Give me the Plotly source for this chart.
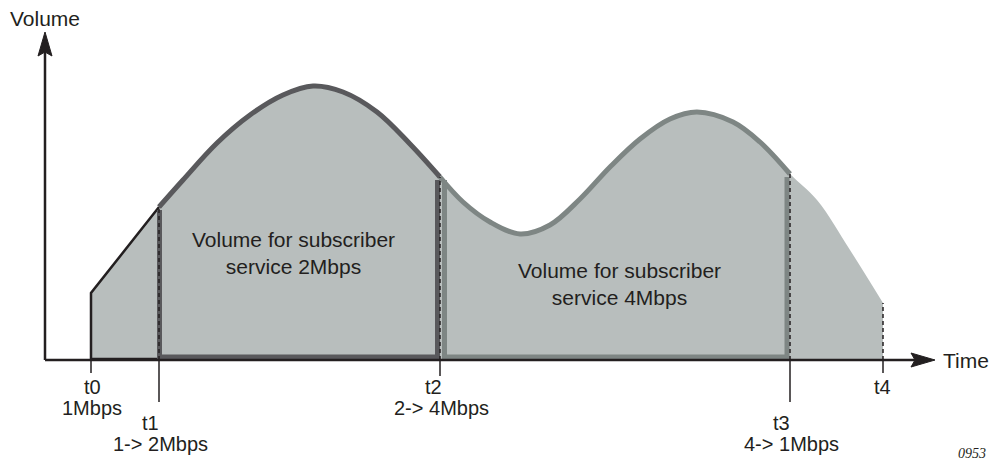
import plotly.graph_objects as go

# curve of volume over time (x = time, y = volume above the time axis)
time_pts = [91, 159, 183, 217, 250, 283, 313, 343, 377, 410, 440, 463, 490,
            520, 550, 580, 610, 640, 670, 697, 733, 760, 790, 817, 850, 883]
volume_pts = [67, 153, 180, 217, 245, 265, 274, 268, 248, 216, 183, 158, 138,
              126, 135, 161, 193, 221, 241, 248, 238, 218, 186, 160, 110, 57]

# time marks along the axis
mark_names = ["t0", "t1", "t2", "t3", "t4"]
mark_times = [91, 159, 440, 790, 883]
mark_rates = ["1Mbps", "1-> 2Mbps", "2-> 4Mbps", "4-> 1Mbps", ""]

region_labels = ["Volume for subscriber<br>service 2Mbps",
                 "Volume for subscriber<br>service 4Mbps"]

FILL = "#b8bebd"
DARK = "#59595c"
MID = "#7e8684"
INK = "#231f20"
FONT = "Liberation Sans, Arial, sans-serif"

X0, X_END, Y_END = 45, 935, 328   # axis origin / arrow tips

idx = [time_pts.index(t) for t in mark_times]
vol_at = [volume_pts[i] for i in idx]

fig = go.Figure()

# filled area: straight ramp t0 -> t1, then smooth curve t1 -> t4
fig.add_trace(go.Scatter(x=time_pts[:idx[1] + 1], y=volume_pts[:idx[1] + 1],
                         mode="lines", fill="tozeroy", fillcolor=FILL,
                         line=dict(width=0, color=FILL)))
fig.add_trace(go.Scatter(x=time_pts[idx[1]:], y=volume_pts[idx[1]:],
                         mode="lines", fill="tozeroy", fillcolor=FILL,
                         line=dict(width=0, color=FILL, shape="spline")))

# region t0-t1 outline
fig.add_trace(go.Scatter(x=[mark_times[1], mark_times[0], mark_times[0], mark_times[1]],
                         y=[1, 1, vol_at[0], vol_at[1]], mode="lines",
                         line=dict(color=INK, width=2.5)))

# region outlines t1-t2 (dark) and t2-t3 (mid grey)
for a, b, col, l_off, r_off in [(1, 2, DARK, 0.5, -2.5), (2, 3, MID, 4.5, -3)]:
    seg_x = time_pts[idx[a]:idx[b] + 1]
    seg_y = volume_pts[idx[a]:idx[b] + 1]
    fig.add_trace(go.Scatter(x=seg_x, y=seg_y, mode="lines",
                             line=dict(color=col, width=5, shape="spline")))
    xl, xr = mark_times[a] + l_off, mark_times[b] + r_off
    fig.add_trace(go.Scatter(x=[xl, xl, xr, xr],
                             y=[vol_at[a] - 3, 3, 3, vol_at[b] - 3], mode="lines",
                             line=dict(color=col, width=5)))

# dashed verticals at t1..t4
for i in range(1, 5):
    fig.add_trace(go.Scatter(x=[mark_times[i]] * 2, y=[0, vol_at[i]], mode="lines",
                             line=dict(color=INK, width=1.5, dash="4px,3px")))

# ticks below the axis
tick_len = [13, 42, 16, 42, 13]
for t, tl in zip(mark_times, tick_len):
    fig.add_trace(go.Scatter(x=[t, t], y=[0, -tl], mode="lines",
                             line=dict(color=INK, width=1.5)))

# axes with arrowheads
fig.add_trace(go.Scatter(x=[X0, X_END - 18], y=[0, 0], mode="lines",
                         line=dict(color=INK, width=2.5)))
fig.add_trace(go.Scatter(x=[X0, X0], y=[0, Y_END - 18], mode="lines",
                         line=dict(color=INK, width=2.5)))
fig.add_trace(go.Scatter(x=[X_END, X_END - 24, X_END - 20, X_END - 24, X_END],
                         y=[0, 7, 0, -7, 0], mode="lines", fill="toself",
                         fillcolor=INK, line=dict(color=INK, width=1)))
fig.add_trace(go.Scatter(x=[X0, X0 - 7, X0, X0 + 7, X0],
                         y=[Y_END, Y_END - 24, Y_END - 20, Y_END - 24, Y_END],
                         mode="lines", fill="toself",
                         fillcolor=INK, line=dict(color=INK, width=1)))

ann = []
ann.append(dict(x=X0, y=342, text="Volume"))
ann.append(dict(x=942, y=0, text="Time", xanchor="left"))
ann.append(dict(x=293, y=107, text=region_labels[0]))
ann.append(dict(x=619, y=76, text=region_labels[1]))
for a in ann:
    a["font"] = dict(family=FONT, size=21, color=INK)

# mark labels: name over rate
name_x = [92, 150, 433, 781, 882]
name_y = [-27, -63, -27, -63, -27]
for n, nx, ny, t, r in zip(mark_names, name_x, name_y, mark_times, mark_rates):
    ann.append(dict(x=nx, y=ny, text=n, font=dict(family=FONT, size=20, color=INK)))
    if r:
        ann.append(dict(x=t + 1, y=ny - 21, text=r,
                        font=dict(family=FONT, size=20, color=INK)))

for a in ann:
    a.setdefault("xanchor", "center")
    a.update(showarrow=False, yanchor="middle", xref="x", yref="y", borderpad=0)

ann.append(dict(x=988, y=-93, xref="x", yref="y", text="<i>0953</i>", showarrow=False,
                xanchor="right", yanchor="middle",
                font=dict(family="Liberation Serif, Times New Roman, serif", size=14,
                          color=INK)))

fig.update_layout(
    width=990, height=460,
    margin=dict(l=0, r=0, t=0, b=0),
    paper_bgcolor="white", plot_bgcolor="white",
    showlegend=False, hovermode=False,
    xaxis=dict(range=[0, 990], visible=False, fixedrange=True),
    yaxis=dict(range=[-100, 360], visible=False, fixedrange=True),
    annotations=ann,
)

fig.write_html("out.html", config={"displayModeBar": False},
               post_script="document.body.style.margin='0';")
